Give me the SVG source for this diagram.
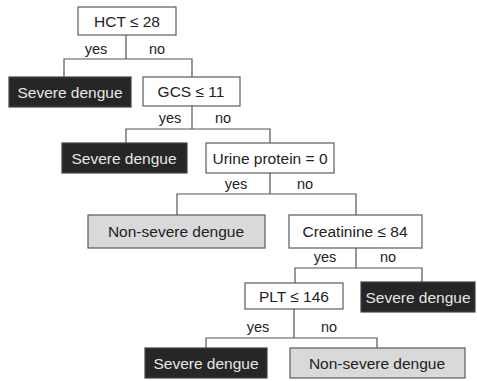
<svg xmlns="http://www.w3.org/2000/svg" width="477" height="381" viewBox="0 0 477 381">
<style>
rect{stroke:#5a5a5a;stroke-width:1.2}
.q{fill:#fff}
.s{fill:#262626;stroke:#444}
.n{fill:#d9d9d9}
text{font-family:"Liberation Sans",Arial,sans-serif;font-size:15.5px;text-anchor:middle;fill:#222}
.s+text{fill:#e6e6e6}
.l{font-size:14.5px}
#connectors path{fill:none;stroke:#555;stroke-width:1.2}
</style>
<rect width="477" height="381" fill="#fff" style="stroke:none"/>
<g id="connectors">
<path d="M126 35V59M64 77V59H192V77"/>
<path d="M192 106V129M126 143V129H270V143"/>
<path d="M270 173V194M177 215V194H356V215"/>
<path d="M356 248V268M295 283V268H422V282"/>
<path d="M294 309V338M206 348V338H377V348"/>
</g>
<g id="labels">
<text class="l" x="96" y="54">yes</text><text class="l" x="157" y="54">no</text>
<text class="l" x="170" y="123">yes</text><text class="l" x="223" y="123">no</text>
<text class="l" x="236" y="189">yes</text><text class="l" x="305" y="189">no</text>
<text class="l" x="325" y="262">yes</text><text class="l" x="388" y="262">no</text>
<text class="l" x="258" y="332">yes</text><text class="l" x="329" y="332">no</text>
</g>
<g id="n1"><rect class="q" x="78" y="7" width="98" height="28"/><text x="127" y="27">HCT ≤ 28</text></g>
<g id="n2"><rect class="s" x="9" y="77" width="122" height="30"/><text x="70" y="98">Severe dengue</text></g>
<g id="n3"><rect class="q" x="143" y="77" width="97" height="29"/><text x="191" y="97">GCS ≤ 11</text></g>
<g id="n4"><rect class="s" x="62" y="143" width="125" height="30"/><text x="124" y="164">Severe dengue</text></g>
<g id="n5"><rect class="q" x="206" y="143" width="128" height="30"/><text x="270" y="164">Urine protein = 0</text></g>
<g id="n6"><rect class="n" x="88" y="215" width="177" height="33"/><text x="176" y="237">Non-severe dengue</text></g>
<g id="n7"><rect class="q" x="289" y="215" width="133" height="33"/><text x="355" y="237">Creatinine ≤ 84</text></g>
<g id="n8"><rect class="q" x="245" y="283" width="98" height="26"/><text x="294" y="302">PLT ≤ 146</text></g>
<g id="n9"><rect class="s" x="361" y="282" width="114" height="30"/><text x="418" y="303">Severe dengue</text></g>
<g id="n10"><rect class="s" x="145" y="348" width="122" height="30"/><text x="206" y="369">Severe dengue</text></g>
<g id="n11"><rect class="n" x="290" y="348" width="175" height="30"/><text x="377" y="369">Non-severe dengue</text></g>
</svg>
